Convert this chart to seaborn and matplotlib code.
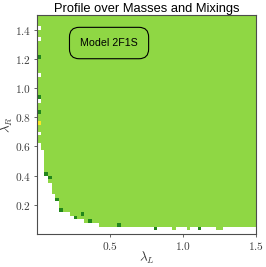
import numpy as np
import pandas as pd
import matplotlib
matplotlib.use("Agg")
import matplotlib.pyplot as plt
import seaborn as sns
from matplotlib.colors import ListedColormap

# grid of lambda_L x lambda_R, 60 cells of 0.025 each over [0, 1.5]
n = 60
step = 0.025
lam = np.round((np.arange(n) + 0.5) * step, 4)

# first filled column of each row (rows counted from the bottom), rest start at 0
row_start = [60, 60, 17, 13, 10, 9, 7, 6, 6, 5, 5, 4, 4, 4, 3, 3, 2, 2, 2, 2,
             2, 2, 2, 1, 1]
# isolated cells in the lowest filled row
row1_cells = [37, 41, 49, 50]
# cells of the second category (dark green), (col, row)
dark_cells = [(2, 16), (3, 15), (5, 9), (6, 6), (10, 4), (12, 5), (14, 3),
              (22, 2), (32, 1), (44, 1), (0, 48), (0, 37), (0, 33)]
# third category (yellow)
yellow_cells = [(0, 30)]
# empty cells in the first column
empty_first_col = [56, 53, 43, 36, 27]

grid = np.zeros((n, n))
for r, s in enumerate(row_start):
    grid[r, :s] = np.nan
for c in row1_cells:
    grid[1, c] = 0
for c, r in dark_cells:
    grid[r, c] = 1
for c, r in yellow_cells:
    grid[r, c] = 2
for r in empty_first_col:
    grid[r, 0] = np.nan

df = pd.DataFrame(grid, index=lam, columns=lam)

plt.rcParams['mathtext.fontset'] = 'cm'
fig = plt.figure(figsize=(2.66, 2.67), dpi=100)
ax = fig.add_axes([37 / 266, 33 / 267, 219 / 266, 219 / 267])

cmap = ListedColormap(['#8fd744', '#22861c', '#fde725'])
sns.heatmap(df, cmap=cmap, vmin=-0.5, vmax=2.5, cbar=False, ax=ax,
            xticklabels=False, yticklabels=False)
ax.invert_yaxis()

for s in ax.spines.values():
    s.set_visible(True)
    s.set_color('0.3')
    s.set_linewidth(0.8)

xt = [0.5, 1.0, 1.5]
yt = [0.2, 0.4, 0.6, 0.8, 1.0, 1.2, 1.4]
ax.set_xticks([v / step for v in xt])
ax.set_xticklabels([f'${v:.1f}$' for v in xt], rotation=0)
ax.set_yticks([v / step for v in yt])
ax.set_yticklabels([f'${v:.1f}$' for v in yt], rotation=0)
ax.tick_params(length=2.5, width=0.6, pad=1.5, labelsize=8.2, color='0.3',
               labelcolor='0.25')

ax.set_xlabel(r'$\lambda_L$', fontsize=9.5, labelpad=-1, color='0.2')
ax.set_ylabel(r'$\lambda_R$', fontsize=9.5, labelpad=0, color='0.2')
ax.set_title('Profile over Masses and Mixings', fontsize=9.3,
             family='Liberation Sans', pad=2)

ax.text(0.329, 0.872, 'Model 2F1S', transform=ax.transAxes, ha='center',
        va='center', fontsize=7.7, family='Liberation Sans',
        bbox=dict(boxstyle='round,pad=1.0,rounding_size=0.9', fc='none',
                  ec='black', lw=0.8))

fig.savefig('out.png', dpi=100)
